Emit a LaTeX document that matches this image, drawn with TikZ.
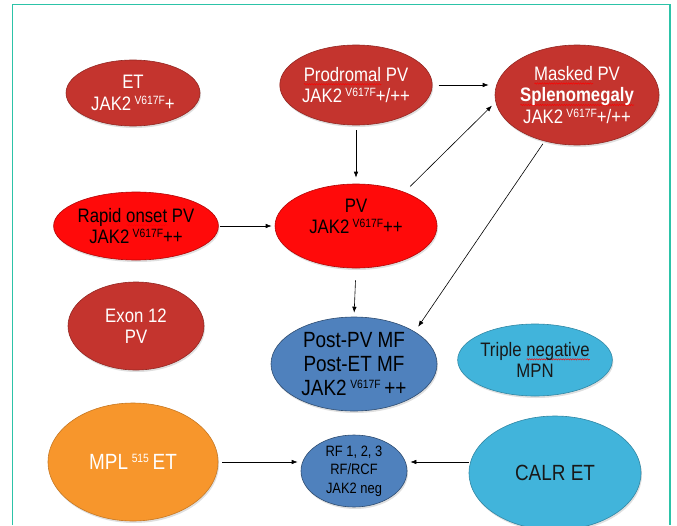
\documentclass[tikz,border=0pt]{standalone}
\usepackage{fontspec}
\setmainfont{Liberation Sans}[FakeStretch=0.86]
\usetikzlibrary{shapes.geometric,arrows.meta,shadows,decorations.pathmorphing}

\definecolor{etred}{HTML}{C4342E}
\definecolor{pvred}{HTML}{FF0A0A}
\definecolor{mfblue}{HTML}{4F81BD}
\definecolor{calrblue}{HTML}{41B4DB}
\definecolor{mplorange}{HTML}{F7962C}
\definecolor{framegreen}{HTML}{2CC3A8}

\newsavebox\spellbox
\newcommand\spell[1]{\sbox\spellbox{#1}\rlap{\smash{\tikz[baseline=0pt,x=1pt,y=1pt]\draw[red,line width=0.45pt,decorate,decoration={snake,amplitude=0.7pt,segment length=2.4pt}] (0pt,-3pt) -- (\wd\spellbox,-3pt);}}\usebox\spellbox}
\newcommand\sups[1]{\raisebox{0.3em}{\fontsize{12}{12}\selectfont #1}}

\begin{document}
\begin{tikzpicture}[
                x=1pt,y=-1pt,
                every node/.style={ellipse,draw,line width=0.6pt,inner sep=0pt,align=center,
                    font=\fontsize{19.5}{21.5}\selectfont,
                    drop shadow={opacity=0.25,shadow xshift=1pt,shadow yshift=-2pt}},
                redell/.style={fill=etred,draw=etred!75!black,text=white},
                pvell/.style={fill=pvred,draw=pvred!70!black,text=black},
                mfell/.style={fill=mfblue,draw=mfblue!60!black,text=black},
                calrell/.style={fill=calrblue,draw=calrblue!75!black,text=black!90},
                mplell/.style={fill=mplorange,draw=mplorange!80!black,text=white},
                bigtext/.style={font=\fontsize{22}{24}\selectfont},
                arr/.style={-{Latex[length=6pt,width=4.5pt]},line width=0.6pt}
            ]
            \useasboundingbox (0,0) rectangle (677,525);
            \draw[framegreen,line width=1.5pt] (12.5,525) |- (670,4.5) -- (670,525);

            % JAK2 V617F group
            \node[redell,minimum width=134pt,minimum height=66pt] (et) at (133,93) {ET\\JAK2\,\sups{V617F}+};
            \node[redell,minimum width=142pt,minimum height=80pt] (prod) at (356,85) {\spell{Prodromal} PV\\JAK2\,\sups{V617F}+/++};
            \node[redell,minimum width=164pt,minimum height=100pt] (masked) at (577,95) {\spell{Masked} PV\\\textbf{\spell{Splenomegaly}}\\JAK2\,\sups{V617F}+/++};
            \node[pvell,minimum width=152pt,minimum height=68pt] (rapid) at (136,226) {Rapid \spell{onset} PV\\JAK2\,\sups{V617F}++};
            \node[pvell,minimum width=162pt,minimum height=84pt] (pv) at (356,226) {PV\\JAK2\,\sups{V617F}++\\[-2pt]\mbox{}};
            \node[redell,minimum width=136pt,minimum height=88pt] (exon) at (136,326) {Exon 12\\PV};

            % fibrosis
            \node[mfell,bigtext,minimum width=166pt,minimum height=94pt] (post) at (354,364) {Post-PV MF\\Post-ET MF\\JAK2\,\sups{V617F}\,++};
            \node[mfell,font=\fontsize{15}{18.5}\selectfont,minimum width=106pt,minimum height=72pt] (rf) at (354,471) {RF 1, 2, 3\\RF/RCF\\JAK2 neg};

            % non JAK2
            \node[calrell,minimum width=148pt,minimum height=72pt] (triple) at (535,360) {Triple \spell{negative}\\MPN};
            \node[mplell,bigtext,minimum width=170pt,minimum height=118pt] (mpl) at (133,462) {MPL\,\sups{515}\,ET};
            \node[calrell,bigtext,minimum width=172pt,minimum height=114pt] (calr) at (555,473) {CALR ET};

            \draw[arr] ([xshift=6pt]prod.east) -- ([xshift=-6pt]masked.west |- prod.east);
            \draw[arr,shorten <=5pt,shorten >=6pt] (prod.south) -- (pv.north);
            \draw[arr,shorten <=8pt,shorten >=5pt] (pv.35) -- (masked.185);
            \draw[arr,shorten <=1pt,shorten >=3pt] (rapid.east) -- (pv.west);
            \draw[arr,shorten <=12pt,shorten >=4pt] (pv.south) -- (post.north);
            \draw[arr,shorten <=3pt,shorten >=6pt] (masked.235) -- (post.28);
            \draw[arr,shorten <=4pt,shorten >=3pt] (mpl.east) -- (rf.west |- mpl.east);
            \draw[arr,shorten >=3pt] (calr.west |- mpl.east) -- (rf.east |- mpl.east);

        \end{tikzpicture}
\end{document}
